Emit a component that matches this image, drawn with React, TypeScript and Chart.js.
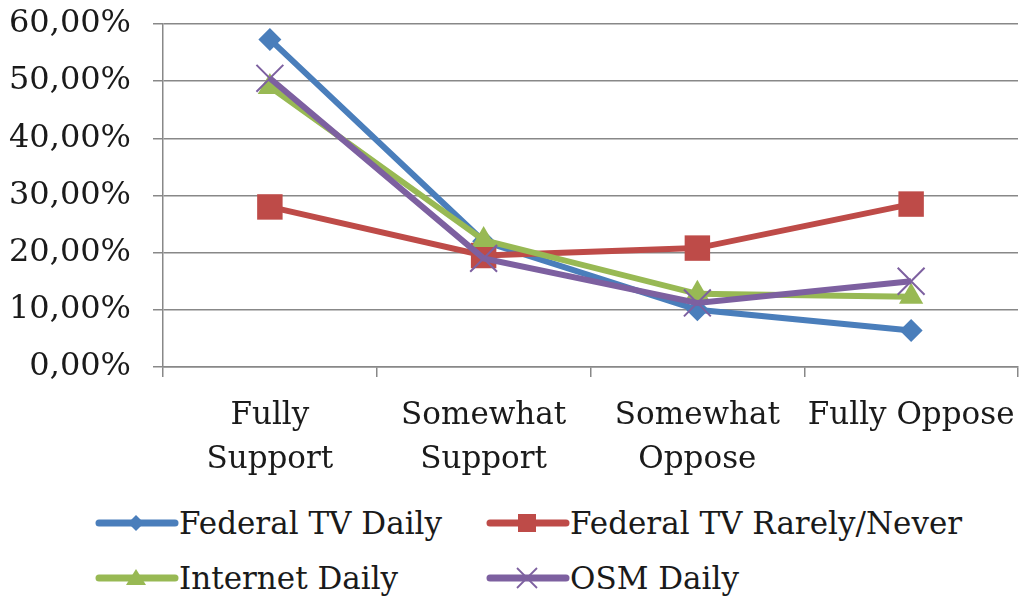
import React, { useEffect, useRef } from "react";
import { Chart, registerables } from "chart.js";

Chart.register(...registerables);

const categories: string[][] = [
  ["Fully", "Support"],
  ["Somewhat", "Support"],
  ["Somewhat", "Oppose"],
  ["Fully Oppose"],
];

const seriesNames = [
  "Federal TV Daily",
  "Federal TV Rarely/Never",
  "Internet Daily",
  "OSM Daily",
];

const federalTvDaily = [57.3, 22.0, 10.0, 6.4];
const federalTvRarely = [28.0, 19.5, 20.8, 28.5];
const internetDaily = [49.0, 22.2, 12.8, 12.3];
const osmDaily = [50.5, 19.0, 11.2, 15.0];

const yTicks = [0, 10, 20, 30, 40, 50, 60];

const BLUE = "#4A7EBB";
const RED = "#BE4B48";
const GREEN = "#98B954";
const PURPLE = "#7D60A0";
const FONT = "'DejaVu Serif', serif";
const TEXT = "#1a1a1a";

function LegendMarker({ color, kind }: { color: string; kind: string }) {
  const cx = 41;
  const cy = 12;
  let marker: React.ReactNode = null;
  if (kind === "diamond") {
    marker = <polygon points={`${cx},${cy - 8} ${cx + 8},${cy} ${cx},${cy + 8} ${cx - 8},${cy}`} fill={color} />;
  } else if (kind === "square") {
    marker = <rect x={cx - 9} y={cy - 9} width={18} height={18} fill={color} />;
  } else if (kind === "triangle") {
    marker = <polygon points={`${cx},${cy - 9} ${cx + 10},${cy + 7} ${cx - 10},${cy + 7}`} fill={color} />;
  } else {
    marker = (
      <g stroke={color} strokeWidth={1.8}>
        <line x1={cx - 10} y1={cy - 10} x2={cx + 10} y2={cy + 10} />
        <line x1={cx - 10} y1={cy + 10} x2={cx + 10} y2={cy - 10} />
      </g>
    );
  }
  return (
    <svg width={84} height={24} style={{ display: "block" }}>
      <line x1={4} y1={cy} x2={80} y2={cy} stroke={color} strokeWidth={7} strokeLinecap="round" />
      {marker}
    </svg>
  );
}

export default function App() {
  const canvasRef = useRef<HTMLCanvasElement | null>(null);

  useEffect(() => {
    const canvas = canvasRef.current;
    if (!canvas) return;
    const chart = new Chart(canvas, {
      type: "line",
      data: {
        labels: categories,
        datasets: [
          {
            label: seriesNames[0],
            data: federalTvDaily,
            borderColor: BLUE,
            backgroundColor: BLUE,
            borderWidth: 6,
            pointStyle: "rectRot",
            pointRadius: 11.5,
            pointBorderWidth: 0,
            order: 3,
          },
          {
            label: seriesNames[1],
            data: federalTvRarely,
            borderColor: RED,
            backgroundColor: RED,
            borderWidth: 6,
            pointStyle: "rect",
            pointRadius: 18,
            pointBorderWidth: 0,
            order: 2,
          },
          {
            label: seriesNames[2],
            data: internetDaily,
            borderColor: GREEN,
            backgroundColor: GREEN,
            borderWidth: 6,
            pointStyle: "triangle",
            pointRadius: 14,
            pointBorderWidth: 0,
            order: 1,
          },
          {
            label: seriesNames[3],
            data: osmDaily,
            borderColor: PURPLE,
            backgroundColor: PURPLE,
            borderWidth: 6,
            pointStyle: "crossRot",
            pointRadius: 19,
            pointBorderWidth: 2,
            order: 0,
          },
        ],
      },
      options: {
        animation: false,
        responsive: false,
        maintainAspectRatio: false,
        layout: { autoPadding: false, padding: { top: 24, right: 3, left: 0, bottom: 0 } },
        plugins: { legend: { display: false }, tooltip: { enabled: false } },
        elements: { line: { tension: 0 } },
        scales: {
          x: {
            offset: true,
            afterFit: (scale: any) => {
              scale.height = 123;
              scale.paddingLeft = 0;
              scale.paddingRight = 0;
            },
            grid: {
              display: true,
              offset: true,
              drawOnChartArea: false,
              drawTicks: true,
              tickLength: 10,
              color: "#888888",
              lineWidth: 1.5,
            },
            border: { display: true, color: "#888888", width: 1.5 },
            ticks: {
              autoSkip: false,
              maxRotation: 0,
              minRotation: 0,
              padding: 16,
              color: TEXT,
              font: { family: FONT, size: 31, lineHeight: 1.45 },
            },
          },
          y: {
            min: 0,
            max: 60,
            afterFit: (scale: any) => {
              scale.width = 163;
              scale.paddingTop = 0;
              scale.paddingBottom = 0;
            },
            afterBuildTicks: (scale: any) => {
              scale.ticks = yTicks.map((v) => ({ value: v }));
            },
            grid: {
              color: "#888888",
              lineWidth: 1.5,
              drawTicks: true,
              tickLength: 10,
            },
            border: { display: true, color: "#888888", width: 1.5 },
            ticks: {
              padding: 22,
              color: TEXT,
              font: { family: FONT, size: 32 },
              callback: (v: any) => Number(v).toFixed(2).replace(".", ",") + "%",
            },
          },
        },
      },
    });
    return () => chart.destroy();
  }, []);

  const legendItems = [
    { name: seriesNames[0], color: BLUE, kind: "diamond", left: 95, top: 523 },
    { name: seriesNames[1], color: RED, kind: "square", left: 486, top: 523 },
    { name: seriesNames[2], color: GREEN, kind: "triangle", left: 95, top: 578 },
    { name: seriesNames[3], color: PURPLE, kind: "cross", left: 486, top: 578 },
  ];

  return (
    <div
      style={{
        position: "fixed",
        left: 0,
        top: 0,
        width: 1021,
        height: 600,
        background: "#ffffff",
        overflow: "hidden",
      }}
    >
      <canvas ref={canvasRef} width={1021} height={490} style={{ display: "block" }} />
      {legendItems.map((it) => (
        <div
          key={it.name}
          style={{
            position: "absolute",
            left: it.left,
            top: it.top - 22,
            height: 44,
            display: "flex",
            alignItems: "center",
            fontFamily: FONT,
            fontSize: 31,
            color: TEXT,
            whiteSpace: "nowrap",
          }}
        >
          <LegendMarker color={it.color} kind={it.kind} />
          <span>{it.name}</span>
        </div>
      ))}
    </div>
  );
}
